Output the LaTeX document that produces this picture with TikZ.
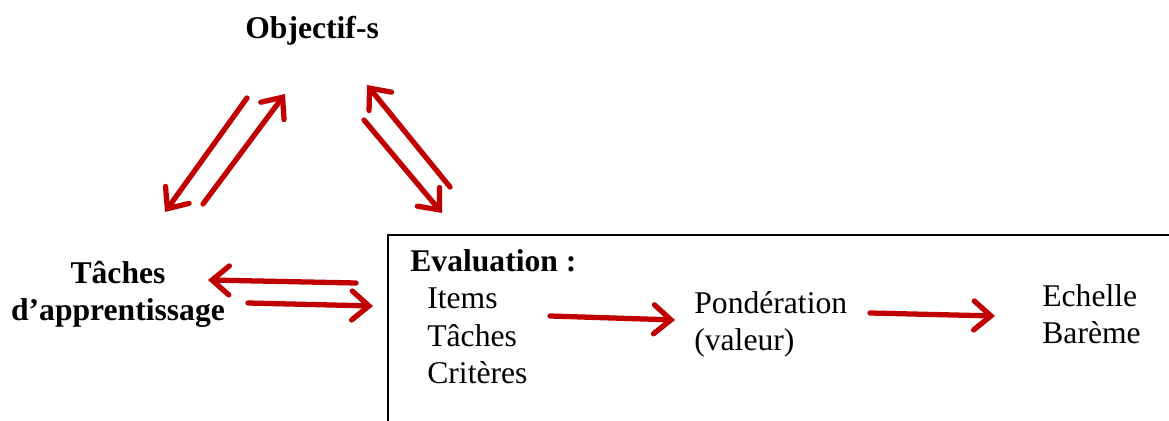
\documentclass[tikz,border=0pt]{standalone}
\usepackage{fontspec}
\setmainfont{Liberation Serif}
\usetikzlibrary{arrows.meta}
\definecolor{rred}{RGB}{192,0,0}

\begin{document}
\begin{tikzpicture}[x=0.02cm, y=-0.02cm,
         arr/.style={
         % The line
         line width=3pt, draw=rred, line cap=round,
         % The tip
         -{Straight Barb[length=3.4mm, width=5.8mm, line cap=round]}},
         txt/.style={inner sep=0, anchor=base west, align=left,
         % Font
         font=\fontsize{18}{21.5}\selectfont},
         btxt/.style={txt, font=\bfseries\fontsize{18}{21.5}\selectfont}]
   \useasboundingbox (0,0) rectangle (1169,421);
   %% the evaluation box (only two sides show)
   \draw[line width=0.8pt] (388,421) -- (388,235) -- (1169,235);
   %% texts (base = baseline of the last line)
   \node[btxt] (obj) at (245,39) {Objectif-s};
   \node[btxt, align=center, anchor=base] (tach) at (118,321) {Tâches\\d’apprentissage};
   \node[btxt] (eval) at (410,272) {Evaluation :};
   \node[txt] (items) at (427,384) {Items\\Tâches\\Critères};
   \node[txt] (pond) at (694,351) {Pondération\\(valeur)};
   \node[txt] (ech) at (1042,344) {Echelle\\Barème};
   %% arrow ends
   \foreach \n/\x/\y in {ot1/247/98, ot2/165/212, to1/203/204, to2/285/94,
                         eo1/450/187, eo2/367/85, oe1/364/120, oe2/442/213,
                         et1/356/283, et2/208/280, te1/248/303, te2/373/306,
                         ip1/550/316, ip2/675/320, pe1/870/313, pe2/995/316}{
      \coordinate (\n) at (\x,\y);
   };
   \foreach \a/\b in {ot1/ot2, to1/to2, eo1/eo2, oe1/oe2, et1/et2, te1/te2, ip1/ip2, pe1/pe2}{
      \draw[arr] (\a) -- (\b);
   };
\end{tikzpicture}
\end{document}
